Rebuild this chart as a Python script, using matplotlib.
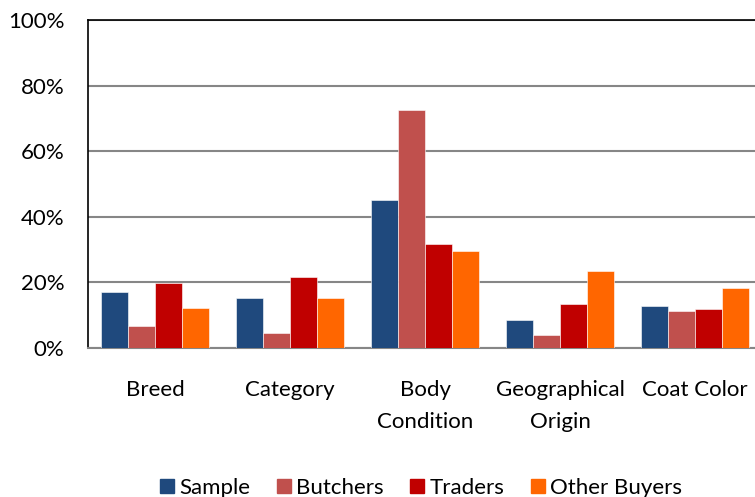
import numpy as np
import matplotlib
matplotlib.use("Agg")
import matplotlib.pyplot as plt
from matplotlib.ticker import PercentFormatter

plt.rcParams['font.family'] = ['Lato', 'DejaVu Sans']

categories = ["Breed", "Category", "Body\nCondition", "Geographical\nOrigin", "Coat Color"]
series = ["Sample", "Butchers", "Traders", "Other Buyers"]
sample = [17.2, 15.2, 45.0, 8.5, 12.7]
butchers = [6.7, 4.6, 72.5, 4.1, 11.4]
traders = [19.7, 21.7, 31.8, 13.3, 11.9]
other_buyers = [12.2, 15.2, 29.6, 23.4, 18.3]
colors = ["#1F497D", "#C0504D", "#C00000", "#FF6600"]

fig = plt.figure(figsize=(7.55, 4.97), dpi=100)
# axes runs a bit past the right edge, like the cropped original
ax = fig.add_axes([87.5 / 755, 149 / 497, 675 / 755, 328 / 497])

x = np.arange(len(categories))
w = 0.2
for i, (name, vals) in enumerate(zip(series, [sample, butchers, traders, other_buyers])):
    ax.bar(x - 0.3 + i * w, vals, w, color=colors[i], label=name,
           edgecolor="white", linewidth=0.4, zorder=3)

ax.set_xlim(-0.5, len(categories) - 0.5)
ax.set_ylim(0, 100)
ax.set_yticks(np.arange(0, 101, 20))
ax.yaxis.set_major_formatter(PercentFormatter(decimals=0))
ax.set_xticks(x)
ax.set_xticklabels(categories, linespacing=1.75)

ax.grid(axis="y", color="#868686", linewidth=1.5, zorder=0)
ax.tick_params(axis="both", length=0, labelsize=16, colors="#000000")
ax.tick_params(axis="x", pad=23)
ax.tick_params(axis="y", pad=16.5)

ax.spines["left"].set_color("black")
ax.spines["left"].set_linewidth(1.2)
ax.spines["top"].set_color("black")
ax.spines["top"].set_linewidth(1.2)
ax.spines["right"].set_visible(False)
ax.spines["bottom"].set_color("#868686")
ax.spines["bottom"].set_linewidth(1.5)

handles = [plt.Line2D([], [], marker="s", linestyle="", color=c, markersize=10) for c in colors]
fig.legend(handles, series, loc="center", bbox_to_anchor=(419 / 755, 9 / 497),
           ncol=4, frameon=False, fontsize=16, handletextpad=0.05,
           columnspacing=1.0, handlelength=1.0)

fig.savefig("out.png", dpi=100)
